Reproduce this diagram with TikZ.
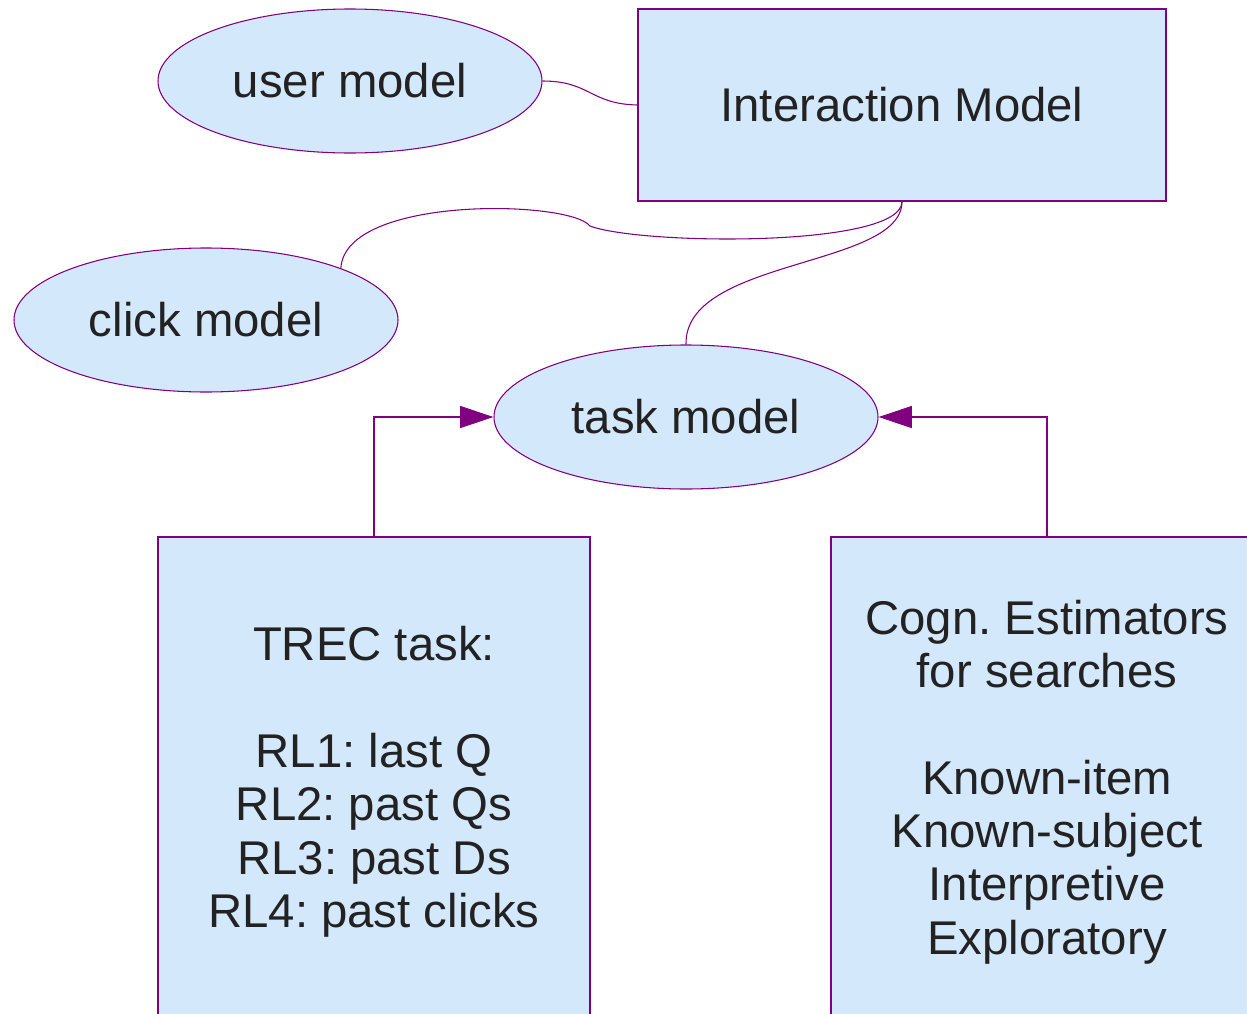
\documentclass[tikz,border=0pt]{standalone}
\usepackage{fontspec}
\setmainfont{Liberation Sans}
\usetikzlibrary{shapes.geometric,arrows.meta}
\definecolor{boxfill}{RGB}{212,232,252}
\definecolor{edge}{RGB}{128,0,128}
\definecolor{txt}{RGB}{34,34,34}
\frenchspacing
\tikzset{
  base/.style={draw=edge, fill=boxfill, line width=0.8pt, text=txt, font=\fontsize{35.5}{40}\selectfont, inner sep=0pt},
  oval/.style={base, ellipse, minimum width=288pt, minimum height=108pt},
  boxnode/.style={base, rectangle, align=center},
  link/.style={draw=edge, line width=0.8pt},
  arr/.style={link, -{Triangle[length=25pt,width=16.5pt]}}
}
\begin{document}
\begin{tikzpicture}[x=0.75pt,y=-0.75pt]
\clip (0,0) rectangle (1247,1014);
\fill[white] (0,0) rectangle (1247,1014);
\node[oval] (um) at (350,81) {user model};
\node[boxnode, minimum width=396pt, minimum height=144pt] (im) at (902,105) {Interaction Model};
\node[oval] (cm) at (206,320) {click model};
\node[oval] (tm) at (686,417) {task model};
\node[boxnode, minimum width=324pt, minimum height=367.5pt] (trec) at (374,782)
  {TREC task:\\[40pt]RL1: last Q\\RL2: past Qs\\RL3: past Ds\\RL4: past clicks};
\node[boxnode, minimum width=324pt, minimum height=367.5pt] (cogn) at (1047,782)
  {Cogn. Estimators\\for searches\\[40pt]Known-item\\Known-subject\\Interpretive\\Exploratory};
\coordinate (kink) at (590,226);
\draw[link] (um.east) .. controls (590,81) and (590,104) .. (im.west);
\draw[link] (im.south) .. controls (902,248) and (640,245) .. (kink)
  .. controls (570,200) and (345,195) .. (cm.21);
\draw[link] (im.south) .. controls (902,268) and (684,258) .. (tm.north);
\draw[arr] (trec.north) |- (tm.west);
\draw[arr] (cogn.north) |- (tm.east);
\end{tikzpicture}
\end{document}
